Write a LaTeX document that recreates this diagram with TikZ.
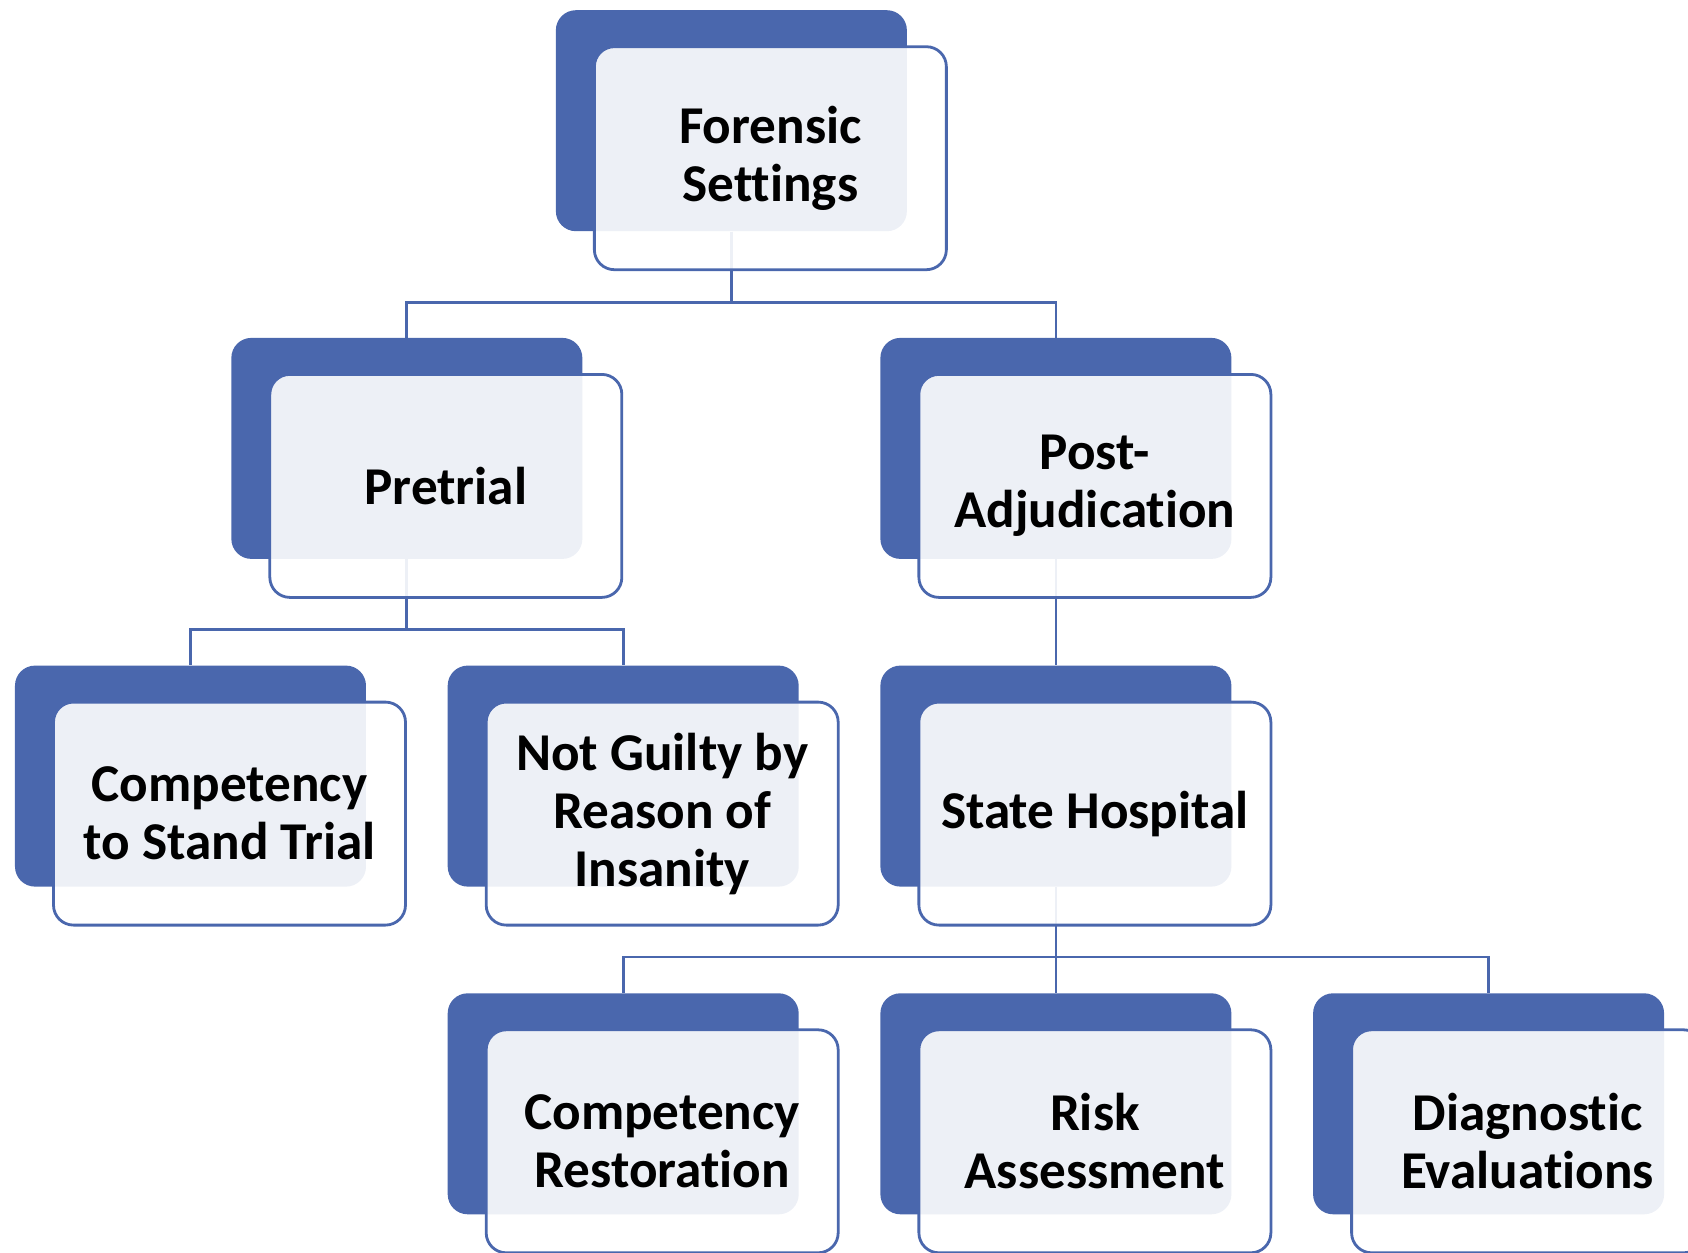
\documentclass[tikz,border=0pt]{standalone}
\usepackage{fontspec}
\setmainfont{Carlito}[Ligatures=NoCommon]
\definecolor{smblue}{RGB}{74,103,173}
\tikzset{
  back/.style={rectangle, rounded corners=10pt, fill=smblue, minimum width=175.5pt, minimum height=110.5pt, inner sep=0pt},
  front/.style={rectangle, rounded corners=10pt, draw=smblue, line width=1.4pt, fill=white, fill opacity=0.9, text opacity=1,
    minimum width=176pt, minimum height=111.5pt, align=center, font=\fontsize{26.6}{29}\selectfont\bfseries},
  link/.style={draw=smblue, line width=1.4pt}
}
\begin{document}
\begin{tikzpicture}[x=108.175pt, y=-163.85pt]
\useasboundingbox (-0.8805,-0.3683) rectangle (6.9217,3.4523);
% back boxes
\node[back] (top-b) at (2.5,0) {};
\node[back] (pre-b) at (1,1) {};
\node[back] (post-b) at (4,1) {};
\node[back] (cst-b) at (0,2) {};
\node[back] (ngri-b) at (2,2) {};
\node[back] (state-b) at (4,2) {};
\node[back] (cr-b) at (2,3) {};
\node[back] (risk-b) at (4,3) {};
\node[back] (diag-b) at (6,3) {};
% connectors
\draw[link] (top-b.south) -- ++(0pt,-35.5pt) -| (pre-b.north);
\draw[link] (top-b.south) -- ++(0pt,-35.5pt) -| (post-b.north);
\draw[link] (pre-b.south) -- ++(0pt,-35pt) -| (cst-b.north);
\draw[link] (pre-b.south) -- ++(0pt,-35pt) -| (ngri-b.north);
\draw[link] (post-b.south) -- (state-b.north);
\draw[link] (state-b.south) -- ++(0pt,-35pt) -| (cr-b.north);
\draw[link] (state-b.south) -- (risk-b.north);
\draw[link] (state-b.south) -- ++(0pt,-35pt) -| (diag-b.north);
% front boxes
\node[front] (top) at ([xshift=19.5pt,yshift=-18.75pt]top-b.center) {Forensic\\Settings};
\node[front] (pre) at ([xshift=19.5pt,yshift=-18.75pt]pre-b.center) {Pretrial};
\node[front] (post) at ([xshift=19.5pt,yshift=-18.75pt]post-b.center) {Post-\\Adjudication};
\node[front] (cst) at ([xshift=19.5pt,yshift=-18.75pt]cst-b.center) {Competency\\to Stand Trial};
\node[front] (ngri) at ([xshift=19.5pt,yshift=-18.75pt]ngri-b.center) {Not Guilty by\\Reason of\\Insanity};
\node[front] (state) at ([xshift=19.5pt,yshift=-18.75pt]state-b.center) {State Hospital};
\node[front] (cr) at ([xshift=19.5pt,yshift=-18.75pt]cr-b.center) {Competency\\Restoration};
\node[front] (risk) at ([xshift=19.5pt,yshift=-18.75pt]risk-b.center) {Risk\\Assessment};
\node[front] (diag) at ([xshift=19.5pt,yshift=-18.75pt]diag-b.center) {Diagnostic\\Evaluations};
\end{tikzpicture}
\end{document}
